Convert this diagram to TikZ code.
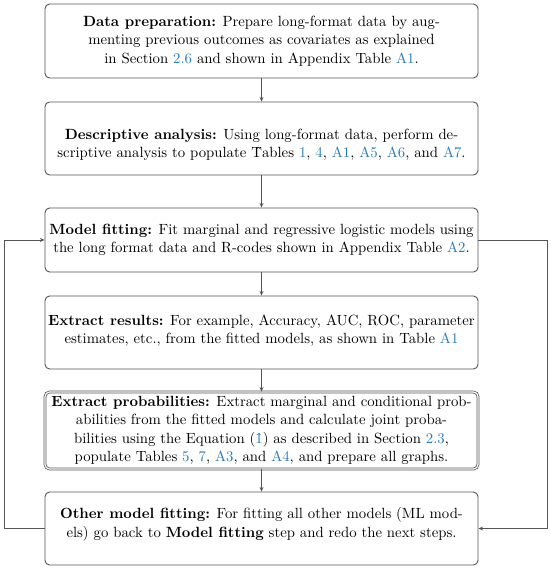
\documentclass[tikz,border=0pt]{standalone}
\usetikzlibrary{arrows.meta}
\definecolor{linkblue}{RGB}{42,122,180}
\definecolor{linegray}{RGB}{85,85,85}
\newcommand{\lk}[1]{\textcolor{linkblue}{#1}}
\begin{document}
\begin{tikzpicture}[x=0.65pt,y=-0.65pt,
  box/.style={draw=linegray,line width=0.6pt,rounded corners=3pt,minimum width=281.45pt,inner sep=0pt,align=center,font=\fontsize{9.6}{12}\selectfont},
  txt/.style={inner sep=0pt,align=center,font=\fontsize{9.6}{12}\selectfont},
  conn/.style={draw=linegray,line width=0.6pt,-{Stealth[length=3pt,width=2.6pt]}}]
\useasboundingbox (0,0) rectangle (550,569);
\node[box,minimum height=48.1pt] (b1) at (261.5,41) {\textbf{Data preparation:} Prepare long-format data by aug-\\menting previous outcomes as covariates as explained\\in Section \lk{2.6} and shown in Appendix Table \lk{A1}.};
\node[box,minimum height=47.45pt] (b2) at (261.5,138.5) {};
\node[txt] (t2) at (261.5,145) {\textbf{Descriptive analysis:} Using long-format data, perform de-\\scriptive analysis to populate \^{T}ables \lk{1}, \lk{4}, \lk{A1}, \lk{A5}, \lk{A6}, and \lk{A7}.};
\node[box,minimum height=41.6pt] (b3) at (261.5,240) {\textbf{Model fitting:} Fit marginal and regressive logistic models using\\the long format data and R-codes shown in Appendix Table \lk{A2}.};
\node[box,minimum height=47.45pt] (b4) at (261.5,332.5) {};
\node[txt] (t4) at (261.5,330.5) {\textbf{Extract results:} For example, Accuracy, AUC, ROC, parameter\\estimates, etc., from the fitted models, as shown in Table \lk{A1}};
\node[box,double,double distance=0.8pt,line width=0.5pt,minimum height=50.05pt] (b5) at (261.5,430.5) {\textbf{Extract probabilities:} Extract marginal and conditional prob-\\abilities from the fitted models and calculate joint proba-\\bilities using the Equation (\lk{\^{1}}) as described in Section \lk{2.3},\\populate Tables \lk{5}, \lk{7}, \lk{A3}, and \lk{A4}, and prepare all graphs.};
\node[box,minimum height=47.45pt] (b6) at (261.5,528.5) {};
\node[txt] (t6) at (261.5,524.5) {\textbf{Other model fitting:} For fitting all other models (ML mod-\\els) go back to \textbf{Model fitting} step and redo the next steps.};
\draw[conn] (b1.south) -- (b2.north);
\draw[conn] (b2.south) -- (b3.north);
\draw[conn] (b3.south) -- (b4.north);
\draw[conn] (b4.south) -- (b5.north);
\draw[conn] (b5.south) -- (b6.north);
\coordinate (L) at (4,0);
\coordinate (R) at (547,0);
\draw[conn] (b6.west) -- (b6.west -| L) -- (b3.west -| L) -- (b3.west);
\draw[conn] (b3.east) -- (b3.east -| R) -- (b6.east -| R) -- (b6.east);
\end{tikzpicture}
\end{document}
